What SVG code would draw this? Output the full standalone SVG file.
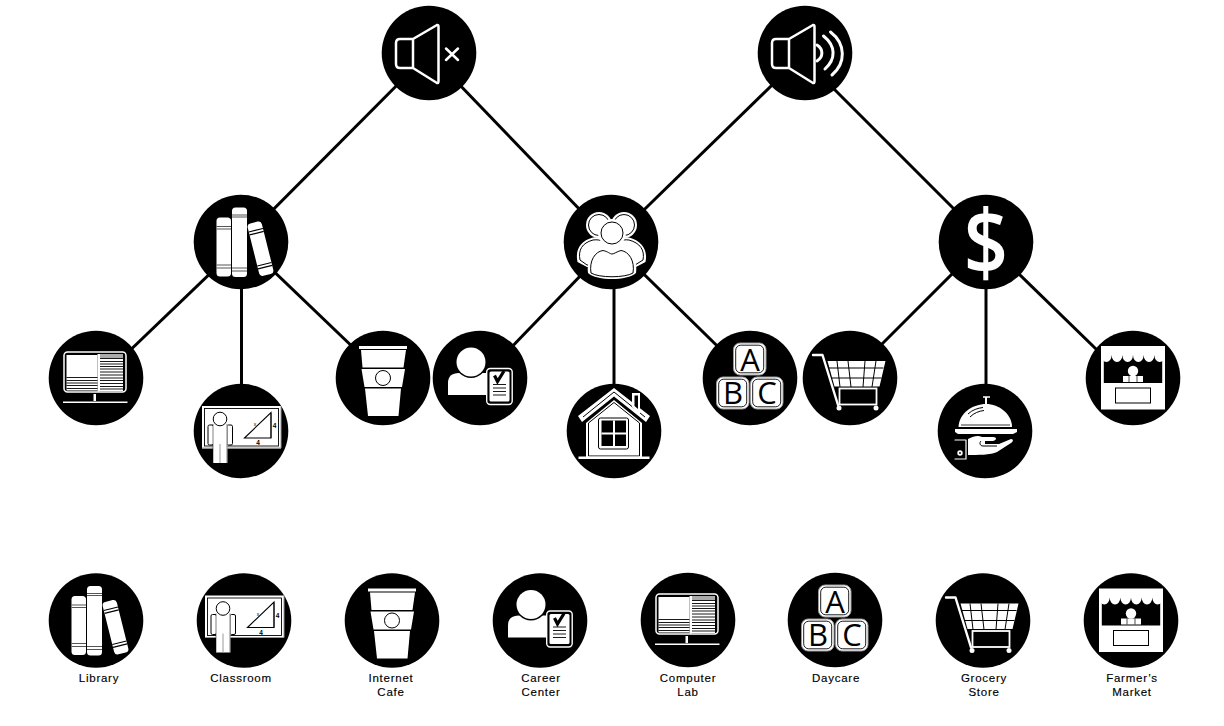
<svg xmlns="http://www.w3.org/2000/svg" width="1224" height="726" viewBox="0 0 1224 726">
<style>
.bg{fill:#000}
.w{fill:#fff}
.k{fill:#000}
.ws{fill:none;stroke:#fff;stroke-linejoin:round;stroke-linecap:round}
.ks{fill:none;stroke:#000}
.wo{fill:#fff;stroke:#000;stroke-width:1}
.conn line{stroke:#000;stroke-width:3}
.lab{font-family:"Liberation Sans",Arial,sans-serif;font-size:11.5px;letter-spacing:.75px;fill:#000;stroke:#000;stroke-width:.15;text-anchor:middle}
.abc{font-family:"Open Sans","Liberation Sans",sans-serif;font-size:31px;fill:#000;text-anchor:middle}
.four{font-family:"Liberation Sans",Arial,sans-serif;font-size:6.5px;font-weight:bold;fill:#000;text-anchor:middle}
.tiny{font-family:"Liberation Sans",Arial,sans-serif;font-size:5px;fill:#000;text-anchor:middle}
.dollar{font-family:"Open Sans","Liberation Sans",sans-serif;font-size:90px;font-weight:600;fill:#fff;text-anchor:middle}
</style>
<defs>
<circle id="disc" r="47.3" class="bg"/>
<g id="speaker">
<path class="ws" stroke-width="2.500" d="M-16 -14H-29Q-33 -14 -33 -10V11Q-33 15 -29 15H-16ZM-16 -14L8 -28Q9.500 -28.500 9.500 -26V28Q9.500 30.500 8 30L-16 15"/>
</g>
<g id="books">
<rect class="w" x="-24.500" y="-24.500" width="14.500" height="59" rx="3.500"/>
<rect class="w" x="-9" y="-34.500" width="15" height="69.500" rx="3.500"/>
<g class="ks" stroke-width="1.200">
<path d="M-24.500 -15.500H-10M-24.500 -13H-10M-24.500 23H-10M-24.500 26H-10" stroke="#555"/>
<path d="M-9 -27H6M-9 -25H6M-9 26H6M-9 29H6" stroke="#555"/>
</g>
<g transform="translate(19.500 6.700) rotate(-14)">
<rect class="w" x="-7.300" y="-27" width="14.600" height="54" rx="3.500"/>
<path class="ks" stroke-width="1.200" d="M-7.300 -19H7.300M-7.300 -16H7.300M-7.300 16H7.300M-7.300 19H7.300"/>
</g>
</g>
<g id="users">
<circle cx="-12" cy="-17" r="13" class="w"/><circle cx="13" cy="-17" r="13" class="w"/>
<circle cx="-12" cy="-17" r="10.500" class="wo"/><circle cx="13" cy="-17" r="10.500" class="wo"/>
<path class="w" d="M-33.500 20C-36 8 -31 -1 -18 -4.500C-10 -5.500 -6 -2.500 0 1.500C6 -2.500 10 -5.500 18 -4.500C31 -1 37 8 34.500 20L25 25H-24Z"/>
<path class="wo" d="M-31 18C-33 8 -29 1 -18 -2C-10 -3 -6 0 0 4C6 0 10 -3 18 -2C29 1 34 8 32 18L24 23H-24Z"/>
<circle cx="1" cy="-9" r="14" class="w"/>
<circle cx="1" cy="-9" r="11" class="wo"/>
<path d="M-23 31C-25 17 -17 7 -8 6C-3 7 -1 9 1 9C3 9 6 7 10 6C19 7 27 17 25 31C16 39 -14 39 -23 31Z" class="w"/>
<path d="M-20 31C-22 19 -16 9.500 -8 8.500C-3 9.500 -1 12 1 12C3 12 6 9.500 10 8.500C18 9.500 24 19 22 31C14 36 -12 36 -20 31Z" class="wo"/>
</g>
<g id="monitor">
<rect x="-32" y="-26" width="62" height="40" rx="3.500" class="ws" stroke-width="1.500"/>
<rect x="-29.500" y="-23" width="31" height="35.500" class="w"/>
<rect x="4" y="-24" width="23" height="37" class="w"/>
<rect x="1.500" y="-24" width="2.500" height="37.500" class="w"/>
<rect x="4" y="-24" width="23" height="4" fill="#aaa"/>
<path class="ks" stroke-width=".9" d="M-29.500 -0.500H1.500M-29.500 2.500H1.500M-29.500 5H1.500M-29.500 7.500H1.500M-29.500 10.500H1.500M4 -19.500H27M4 -16.500H27M4 -14H27M4 -11.500H27M4 -9H27M4 -6H27M4 -3H27M4 0H27M4 2.500H27M4 5.500H27M4 8.500H27M4 11H27"/>
<rect x="-2.500" y="16" width="2.500" height="7" class="w"/>
<rect x="-33" y="23.500" width="64.500" height="1.500" class="w"/>
</g>
<g id="classroom">
<rect x="-39" y="-25" width="79" height="42.500" class="w"/>
<rect x="-36.500" y="-22.500" width="74" height="37.500" fill="none" stroke="#000" stroke-width=".9"/>
<path d="M-39 17H40V-25" fill="none" stroke="#999" stroke-width="1"/>
<path d="M30 -18V7" stroke="#999" stroke-width="2"/>
<path d="M3.500 7L30 -18.500V7Z" fill="none" stroke="#000" stroke-width="1.100"/>
<rect x="-33" y="-6" width="5.500" height="20" rx="1.500" class="wo"/>
<rect x="-14" y="-6" width="5.500" height="20" rx="1.500" class="wo"/>
<rect x="-28" y="-7" width="14.500" height="39" class="w"/>
<path d="M-28 -7V32M-14 -7V32" stroke="#000" stroke-width=".5"/>
<path d="M-21 13V32" stroke="#999" stroke-width="1"/>
<circle cx="-21" cy="-12" r="6.800" class="wo"/>
</g>
<g id="cup">
<rect x="-24" y="-32" width="48" height="3" class="w"/>
<path class="w" d="M-22 -28H23L20.500 -10.500H-20.500Z"/>
<path class="w" d="M-21.500 -9H22L19 9H-18.500Z"/>
<path class="w" d="M-18 10.500H18L15.500 38H-15Z"/>
<circle r="7.500" cx="0" cy="0" class="w" stroke="#000" stroke-width="1"/>
</g>
<g id="career">
<path class="w" d="M-32 17V5Q-32 -5 -21 -5H7V17Z"/>
<circle cx="-9" cy="-16" r="16" class="k"/>
<circle cx="-9" cy="-16" r="14.500" class="w"/>
<rect x="6" y="-10" width="27" height="37" rx="4" class="k"/>
<rect x="6.700" y="-9.500" width="25.500" height="36" rx="3.500" fill="none" stroke="#fff" stroke-width="1.400"/>
<rect x="9.500" y="-6.500" width="20" height="30" rx="1.500" class="w"/>
<path d="M14.500 -2.500L17.500 3.500L24 -7" fill="none" stroke="#000" stroke-width="3.200"/>
<path d="M13 6.500H26M13 10H26M13 13.500H26M13 17H26" stroke="#000" stroke-width=".9"/>
</g>
<g id="house">
<path class="w" d="M-36 -15L0 -43L36 -15L32 -9L0 -34.500L-32 -9Z"/>
<path d="M-31 -14L0 -39L31 -14" fill="none" stroke="#000" stroke-width="1"/>
<path class="w" d="M18 -38H26V-16L18 -24Z"/>
<path d="M20.500 -35.500H24V-22L20.500 -25Z" class="k"/>
<path class="w" d="M-28 -8L0 -31L28 -8V27H-28Z"/>
<path d="M-25.500 -8L0 -28.500L25.500 -8V25H-25.500Z" fill="none" stroke="#000" stroke-width="1"/>
<rect x="-35.500" y="25.500" width="71" height="2.500" class="w"/>
<rect x="-15.500" y="-13" width="30" height="31" rx="2" class="w" stroke="#000" stroke-width="1"/>
<rect x="-12.500" y="-10.500" width="24.500" height="25.500" class="k"/>
<path d="M0 -10.500V15M-12.500 2.500H12" stroke="#fff" stroke-width="2"/>
</g>
<g id="block">
<rect x="0" y="0" width="32.500" height="32" rx="6.500" fill="#fff" stroke="#9a9a9a" stroke-width="1"/>
<rect x="2.200" y="2.200" width="28" height="27.600" rx="5" fill="#fff" stroke="#000" stroke-width=".9"/>
</g>
<g id="cart">
<path class="w" d="M-22.500 -17H35.500L29.500 8.500H-15.500Z"/>
<path class="ks" stroke-width="1" d="M-21 -10H33.500M-18 0H31.500M-13 -17L-10 9M-2 -17L1 9M15 -17L13 9M26 -17L22 9"/>
<path class="ws" stroke-width="2.400" stroke-linecap="butt" d="M-37 -23H-27.500L-12 27"/>
<rect x="-10.500" y="10.500" width="37" height="16" fill="#000" stroke="#fff" stroke-width="1.800"/>
<circle cx="-11" cy="30" r="2.500" class="w"/>
<circle cx="26" cy="30" r="2.500" class="w"/>
</g>
<g id="cloche">
<path d="M-2 -34H5" stroke="#fff" stroke-width="1.500"/><path d="M1 -34V-27" stroke="#fff" stroke-width="2"/>
<path class="w" d="M-26.500 -4C-26 -18 -12 -27 1 -27C14 -27 27 -17 27 -4Z"/>
<path class="ks" stroke-width="1" d="M-17 -17C-13 -21 -7 -23 -2 -23.500M-15 -14C-11 -18 -6 -20 -1 -20.500"/>
<path d="M-24 -6H25" stroke="#000" stroke-width=".8"/>
<path class="w" d="M-30 -2H32V1L28 3H-27L-30 1Z"/>
<path class="w" d="M-17 8C-11 5 -7 4 -3 6H8C12 6 12 9 8 10H0V13H14L26 8C29 8 28 11 26 12L12 21C6 24 -8 24 -17 24Z"/>
<path class="ks" stroke-width="1" d="M-4 10C-6 12 -5 15 -2 15H12"/>
<path class="ws" stroke-width="1.200" stroke-linecap="butt" d="M-30 9H-19V28H-30"/>
<circle cx="-25" cy="22" r="2.700" class="w"/>
<circle cx="-25" cy="22" r=".9" class="k"/>
</g>
<g id="stall">
<path class="w" d="M-32 -32H32V-23A5.330 7 0 0 1 21.330 -23A5.330 7 0 0 1 10.670 -23A5.330 7 0 0 1 0 -23A5.330 7 0 0 1 -10.670 -23A5.330 7 0 0 1 -21.330 -23A5.330 7 0 0 1 -32 -23Z"/>
<rect x="-32" y="-23" width="2.800" height="29" class="w"/>
<rect x="29.200" y="-23" width="2.800" height="29" class="w"/>
<rect x="-32" y="5" width="64" height="26.500" class="w"/>
<rect x="-17.500" y="10" width="35" height="15" fill="#fff" stroke="#000" stroke-width="1"/>
<circle cx="0" cy="-7" r="5.200" class="w"/>
<rect x="-10" y="-2" width="20" height="6" class="w"/>
<path d="M-4 -2V4M4 -2V4" stroke="#000" stroke-width=".7"/>
</g>
</defs>

<g id="connectors" class="conn">
<line x1="429" y1="53" x2="241" y2="242"/>
<line x1="429" y1="53" x2="611" y2="242"/>
<line x1="805" y1="53" x2="611" y2="242"/>
<line x1="805" y1="60" x2="986" y2="241"/>
<line x1="243" y1="242" x2="96" y2="383"/>
<line x1="241.500" y1="242" x2="241.500" y2="431"/>
<line x1="241" y1="240" x2="383" y2="376"/>
<line x1="611" y1="244" x2="480" y2="380"/>
<line x1="614" y1="242" x2="614" y2="431"/>
<line x1="611" y1="242" x2="750" y2="378"/>
<line x1="986" y1="240" x2="850" y2="376"/>
<line x1="986" y1="242" x2="986" y2="431"/>
<line x1="986" y1="242" x2="1133" y2="385"/>
</g>

<g id="node-muted" transform="translate(429 53)"><use href="#disc"/><use href="#speaker"/><path class="ws" stroke-width="2.500" d="M17 -4.500L29 7M29 -4.500L17 7" stroke-linecap="butt"/></g>
<g id="node-loud" transform="translate(805 53)"><use href="#disc"/><use href="#speaker"/><path class="ws" stroke-width="3" d="M12 -8C18.500 -4 18.500 4 12 8M18.500 -17C31 -7 31 6 20 16M25.500 -21C41 -9 41 10 27 22"/></g>

<g id="node-books" transform="translate(241 242)"><use href="#disc"/><use href="#books"/></g>
<g id="node-users" transform="translate(611 242)"><use href="#disc"/><use href="#users"/></g>
<g id="node-money" transform="translate(986 242)"><use href="#disc"/><text class="dollar" x="0" y="31.500" transform="scale(.86 1)">$</text></g>

<g id="node-computer-top" transform="translate(96 378)"><use href="#disc"/><use href="#monitor"/></g>
<g id="node-classroom-top" transform="translate(241 431)"><use href="#disc"/><use href="#classroom"/><text class="four" x="33.500" y="-3">4</text><text class="four" x="17" y="14">4</text><text class="tiny" x="14" y="-5">x</text></g>
<g id="node-cup-top" transform="translate(383 378)"><use href="#disc"/><use href="#cup"/></g>
<g id="node-career-top" transform="translate(480 378)"><use href="#disc"/><use href="#career"/></g>
<g id="node-house" transform="translate(614 431)"><use href="#disc"/><use href="#house"/></g>
<g id="node-abc-top" transform="translate(750 378)"><use href="#disc"/><use href="#block" x="-16.500" y="-35"/><use href="#block" x="-33.500" y="-1"/><use href="#block" x="0.500" y="-1"/><text class="abc" x="0" y="-7.500">A</text><text class="abc" x="-17" y="26">B</text><text class="abc" x="17" y="26">C</text></g>
<g id="node-cart-top" transform="translate(850 378)"><use href="#disc"/><use href="#cart"/></g>
<g id="node-cloche" transform="translate(985 431)"><use href="#disc"/><use href="#cloche"/></g>
<g id="node-stall-top" transform="translate(1133 378)"><use href="#disc"/><use href="#stall"/></g>

<g id="legend-library" transform="translate(96 620.500)"><use href="#disc"/><use href="#books"/></g>
<g id="legend-classroom" transform="translate(244 620.500)"><use href="#disc"/><use href="#classroom"/><text class="four" x="33.500" y="-3">4</text><text class="four" x="17" y="14">4</text><text class="tiny" x="14" y="-5">x</text></g>
<g id="legend-cafe" transform="translate(392 620.500)"><use href="#disc"/><use href="#cup"/></g>
<g id="legend-career" transform="translate(540 620.500)"><use href="#disc"/><use href="#career"/></g>
<g id="legend-computer" transform="translate(688 620)"><use href="#disc"/><use href="#monitor"/></g>
<g id="legend-daycare" transform="translate(835 620)"><use href="#disc"/><use href="#block" x="-16.500" y="-35"/><use href="#block" x="-33.500" y="-1"/><use href="#block" x="0.500" y="-1"/><text class="abc" x="0" y="-7.500">A</text><text class="abc" x="-17" y="26">B</text><text class="abc" x="17" y="26">C</text></g>
<g id="legend-grocery" transform="translate(983 620.500)"><use href="#disc"/><use href="#cart"/></g>
<g id="legend-market" transform="translate(1131 620.500)"><use href="#disc"/><use href="#stall"/></g>

<g id="labels">
<text class="lab" x="99" y="682">Library</text>
<text class="lab" x="241" y="682">Classroom</text>
<text class="lab" x="391" y="682">Internet</text>
<text class="lab" x="391" y="696">Cafe</text>
<text class="lab" x="541" y="682">Career</text>
<text class="lab" x="541" y="696">Center</text>
<text class="lab" x="688" y="682">Computer</text>
<text class="lab" x="688" y="696">Lab</text>
<text class="lab" x="836" y="682">Daycare</text>
<text class="lab" x="984" y="682">Grocery</text>
<text class="lab" x="984" y="696">Store</text>
<text class="lab" x="1132" y="682">Farmer’s</text>
<text class="lab" x="1132" y="696">Market</text>
</g>
</svg>
